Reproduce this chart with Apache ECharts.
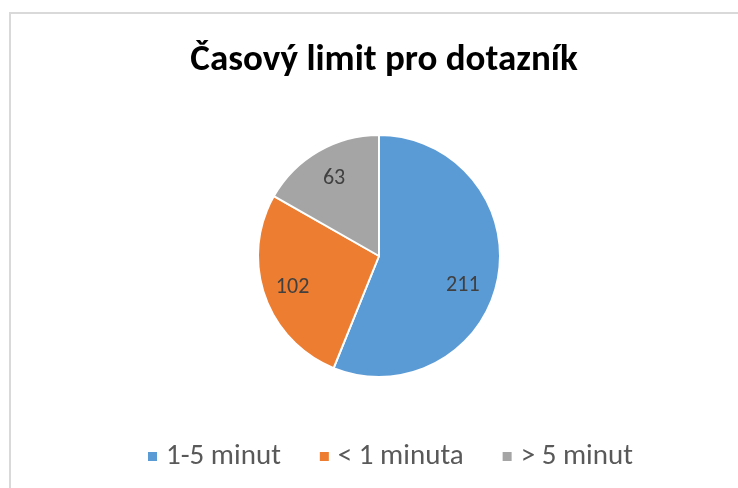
<!DOCTYPE html>
<html>
<head>
<meta charset="utf-8">
<script src="https://cdn.jsdelivr.net/npm/echarts@6/dist/echarts.min.js"></script>
<style>
  html, body { margin: 0; padding: 0; background: #fff; }
  #main { width: 738px; height: 488px; }
</style>
</head>
<body>
<div id="main"></div>
<script>
const categories = ['1-5 minut', '< 1 minuta', '> 5 minut']
const values = [211, 102, 63]
const colors = ['#5B9BD5', '#ED7D31', '#A5A5A5']

const font = 'Carlito, "Liberation Sans Narrow", "Open Sans", sans-serif'
// drobné posuny popisků (Excel je klade "best fit")
const labelShift = [[-6, 12], [0, 1], [1, 2]]

const myChart = echarts.init(document.getElementById('main'))
const options = {
  animation: false,
  title: {
    text: 'Časový limit pro dotazník',
    left: 379,
    textAlign: 'center',
    top: 37,
    textStyle: { fontFamily: font, fontSize: 37, fontWeight: 'bold', color: '#000' }
  },
  legend: {
    data: categories,
    top: 437,
    left: 141,
    icon: 'rect',
    itemWidth: 11,
    itemHeight: 11,
    itemGap: 37,
    textStyle: { fontFamily: font, fontSize: 29, color: '#595959', padding: [0, 0, 0, 3] }
  },
  graphic: [{
    type: 'rect',
    shape: { x: 10, y: 13, width: 760, height: 500 },
    style: { fill: 'none', stroke: '#d9d9d9', lineWidth: 2 },
    silent: true,
    z: -1
  }],
  series: [{
    name: 'slices',
    type: 'pie',
    center: [379, 256],
    radius: [0, 121],
    startAngle: 90,
    clockwise: true,
    label: { show: false },
    labelLine: { show: false },
    itemStyle: { borderColor: '#fff', borderWidth: 2 },
    emphasis: { disabled: true },
    data: categories.map((name, i) => ({ name: name, value: values[i], itemStyle: { color: colors[i] } }))
  }, {
    // neviditelná vrstva jen kvůli umístění popisků dál od středu
    name: 'labels',
    type: 'pie',
    center: [379, 256],
    radius: [0, 177],
    startAngle: 90,
    clockwise: true,
    silent: true,
    legendHoverLink: false,
    itemStyle: { color: 'rgba(0,0,0,0)' },
    label: {
      show: true,
      position: 'inside',
      formatter: '{c}',
      fontFamily: font,
      fontSize: 22,
      color: '#404040'
    },
    labelLine: { show: false },
    emphasis: { disabled: true },
    data: categories.map((name, i) => ({ name: name, value: values[i], label: { offset: labelShift[i] } }))
  }]
}
myChart.setOption(options)
</script>
</body>
</html>
